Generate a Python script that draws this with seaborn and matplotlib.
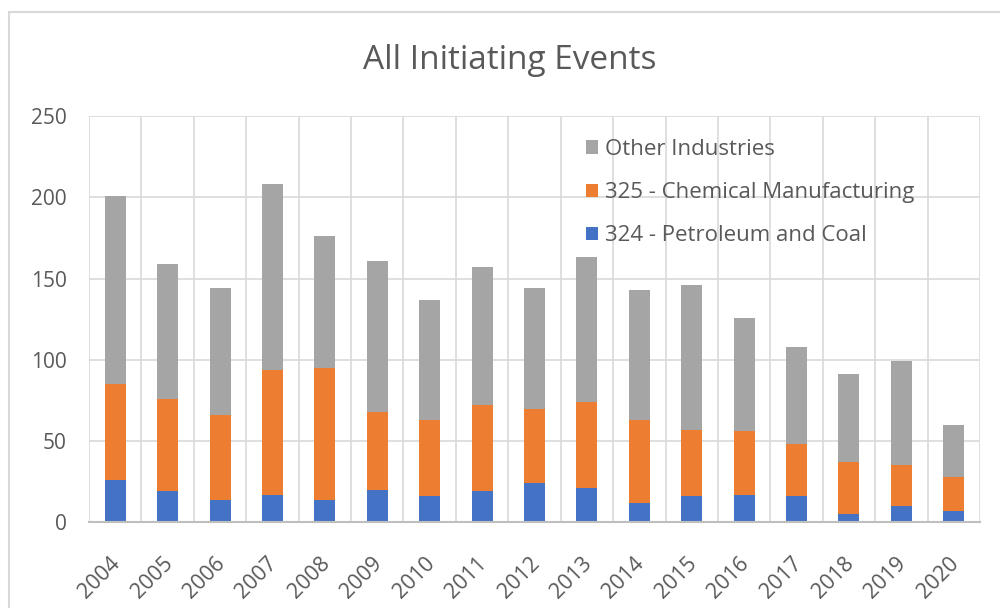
import numpy as np
import pandas as pd
import matplotlib
matplotlib.use("Agg")
import matplotlib.pyplot as plt
from matplotlib.patches import Rectangle
from matplotlib.transforms import ScaledTranslation
import seaborn as sns

years = [str(y) for y in range(2004, 2021)]
petroleum = [26, 19, 14, 17, 14, 20, 16, 19, 24, 21, 12, 16, 17, 16, 5, 10, 7]
chemical = [59, 57, 52, 77, 81, 48, 47, 53, 46, 53, 51, 41, 39, 32, 32, 25, 21]
other = [116, 83, 78, 114, 81, 93, 74, 85, 74, 89, 80, 89, 70, 60, 54, 64, 32]

df = pd.DataFrame({"year": years, "pet": petroleum, "chem": chemical, "other": other})
df["chem_top"] = df["pet"] + df["chem"]
df["total"] = df["chem_top"] + df["other"]

sns.set_theme(style="white")
plt.rcParams["font.family"] = ["Open Sans", "DejaVu Sans"]
txt = "#595959"

fig = plt.figure(figsize=(10, 6.08), dpi=100)
ax = fig.add_axes([0.089, 0.141, 0.891, 0.668])

# stacked look: draw cumulative heights from the top down
sns.barplot(data=df, x="year", y="total", color="#A5A5A5", width=0.4, saturation=1,
            linewidth=0, label="Other Industries", ax=ax, zorder=3)
sns.barplot(data=df, x="year", y="chem_top", color="#ED7D31", width=0.4, saturation=1,
            linewidth=0, label="325 - Chemical Manufacturing", ax=ax, zorder=3)
sns.barplot(data=df, x="year", y="pet", color="#4472C4", width=0.4, saturation=1,
            linewidth=0, label="324 - Petroleum and Coal", ax=ax, zorder=3)

ax.set_xlim(-0.5, len(years) - 0.5)
ax.set_ylim(0, 250)
ax.set_yticks(range(0, 251, 50))
ax.set_xticks(np.arange(-0.5, len(years), 1), minor=True)
ax.grid(axis="y", which="major", color="#d9d9d9", lw=1.2, zorder=0)
ax.grid(axis="x", which="minor", color="#d9d9d9", lw=1.2, zorder=0)
ax.tick_params(axis="x", which="both", length=0, pad=22)
ax.tick_params(axis="y", length=0, pad=16)
ax.set_xlabel("")
ax.set_ylabel("")
for s in ["top", "right", "left"]:
    ax.spines[s].set_visible(False)
ax.spines["bottom"].set_color("#bfbfbf")
ax.spines["bottom"].set_linewidth(1.5)
ax.spines["bottom"].set_zorder(4)

plt.setp(ax.get_xticklabels(), rotation=45, ha="right", rotation_mode="anchor",
         fontsize=15.5, color=txt)
plt.setp(ax.get_yticklabels(), fontsize=15, color=txt)
shift = ScaledTranslation(-4 / 72, 0, fig.dpi_scale_trans)
for lab in ax.get_xticklabels():
    lab.set_transform(lab.get_transform() + shift)

fig.text(0.51, 0.90, "All Initiating Events", ha="center", va="center",
         fontsize=24, color=txt)

leg = ax.legend(loc="upper left", bbox_to_anchor=(0.535, 0.993), frameon=False,
                fontsize=16, labelcolor=txt, handlelength=0.55, handleheight=0.55,
                handletextpad=0.3, labelspacing=1.0)

# chart area border
fig.patches.append(Rectangle((0.009, -0.1), 1.2, 1.08, transform=fig.transFigure,
                             fill=False, edgecolor="#d9d9d9", lw=1.5))

fig.savefig("out.png", dpi=100)
